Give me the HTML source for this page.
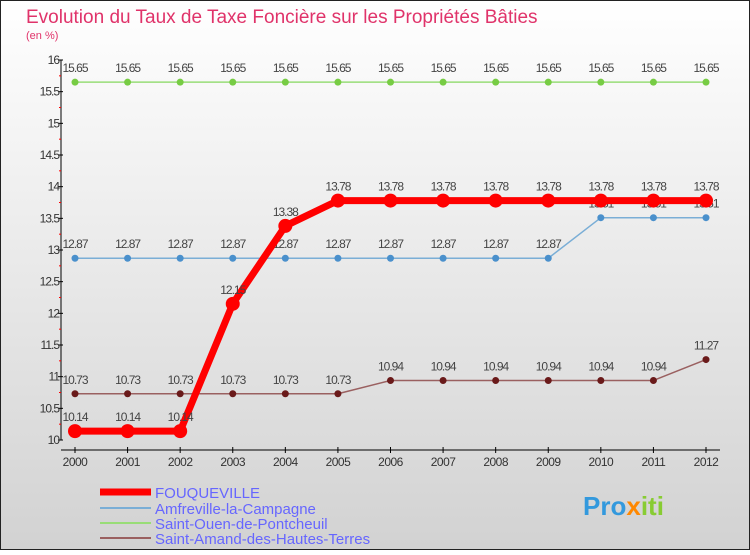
<!DOCTYPE html>
<html><head><meta charset="utf-8"><style>
body{margin:0;width:750px;height:550px;overflow:hidden;font-family:"Liberation Sans",sans-serif}
svg text{font-family:"Liberation Sans",sans-serif}
</style></head><body>
<svg id="c" width="750" height="550" xmlns="http://www.w3.org/2000/svg">
<defs><linearGradient id="bg" x1="0" y1="0" x2="0" y2="1"><stop offset="0" stop-color="#ffffff"/><stop offset="1" stop-color="#d2d2d2"/></linearGradient></defs>
<rect x="0.5" y="0.5" width="749" height="549" fill="url(#bg)" stroke="#222"/>
<text x="26" y="23" font-size="19" fill="#e0336a">Evolution du Taux de Taxe Foncière sur les Propriétés Bâties</text>
<text x="26" y="39" font-size="11" fill="#e0336a">(en %)</text>
<g id="axes"></g><g id="series"></g>
<g>
<line x1="100" y1="492" x2="151" y2="492" stroke="#f00" stroke-width="7"/>
<text x="155" y="498" font-size="15" fill="#6666ff">FOUQUEVILLE</text>
<line x1="100" y1="508" x2="151" y2="508" stroke="#7aaed6" stroke-width="2"/>
<text x="155" y="514" font-size="15" fill="#6666ff">Amfreville-la-Campagne</text>
<line x1="100" y1="523" x2="151" y2="523" stroke="#99dd77" stroke-width="2"/>
<text x="155" y="529" font-size="15" fill="#6666ff">Saint-Ouen-de-Pontcheuil</text>
<line x1="100" y1="538" x2="151" y2="538" stroke="#9a6060" stroke-width="2"/>
<text x="155" y="544" font-size="15" fill="#6666ff">Saint-Amand-des-Hautes-Terres</text>
</g>
<text x="583" y="515" font-size="26" font-weight="bold" fill="#3399dd">Pro<tspan fill="#ff8800">x</tspan><tspan fill="#88cc33">iti</tspan></text>
</svg>
<script>
const years=[2000,2001,2002,2003,2004,2005,2006,2007,2008,2009,2010,2011,2012];
const yTicks=[10,10.5,11,11.5,12,12.5,13,13.5,14,14.5,15,15.5,16];
const fouq=[10.14,10.14,10.14,12.15,13.38,13.78,13.78,13.78,13.78,13.78,13.78,13.78,13.78];
const amfr=[12.87,12.87,12.87,12.87,12.87,12.87,12.87,12.87,12.87,12.87,13.51,13.51,13.51];
const ouen=[15.65,15.65,15.65,15.65,15.65,15.65,15.65,15.65,15.65,15.65,15.65,15.65,15.65];
const amand=[10.73,10.73,10.73,10.73,10.73,10.73,10.94,10.94,10.94,10.94,10.94,10.94,11.27];
const NS="http://www.w3.org/2000/svg";
const X=i=>75+i*(706-75)/(years.length-1);
const Y=v=>440-(v-10)*(380/6);
function mk(t,a,p){const e=document.createElementNS(NS,t);for(const k in a)e.setAttribute(k,a[k]);p.appendChild(e);return e;}
const ax=document.getElementById('axes');
const yl=mk('line',{x1:61,y1:60,x2:61,y2:440,stroke:'#000'},ax);


const xl=mk('line',{x1:61,y1:450,x2:720,y2:450,stroke:'#000'},ax);


yTicks.forEach(v=>{const y=Y(v);
mk('line',{x1:58,y1:y,x2:63,y2:y,stroke:'#000'},ax);
mk('line',{x1:59,y1:Y(v+0.25),x2:61,y2:Y(v+0.25),stroke:v<16?'#f00':'none'},ax);
const t=mk('text',{x:59,y:y+4,'font-size':12,'text-anchor':'end',fill:'#333','letter-spacing':'-1'},ax);t.textContent=String(v);

});
years.forEach((yr,i)=>{mk('line',{x1:X(i),y1:447,x2:X(i),y2:453,stroke:'#000'},ax);
const t=mk('text',{x:X(i),y:466,'font-size':12,'text-anchor':'middle',fill:'#333','letter-spacing':'-0.5'},ax);t.textContent=yr;

});
const sg=document.getElementById('series');
function series(vals,name,col,w,r,dot){const g=mk('g',{},sg);


mk('polyline',{points:vals.map((v,i)=>X(i)+','+Y(v)).join(' '),fill:'none',stroke:col,'stroke-width':w,'stroke-linejoin':'round'},g);
vals.forEach((v,i)=>{const c=mk('circle',{cx:X(i),cy:Y(v),r:r,fill:dot},g);


const t=mk('text',{x:X(i),y:Y(v)-10,'font-size':12,'text-anchor':'middle',fill:'#444','letter-spacing':'-1'},g);t.textContent=String(v);

});}
series(ouen,'series-saint-ouen','#99dd77',1.5,3.5,'#77cc44');
series(amfr,'series-amfreville','#7aaed6',1.5,3.5,'#4a90cc');
series(amand,'series-saint-amand','#9a6060',1.5,3.5,'#6a1a1a');
series(fouq,'series-fouqueville','#f00',7,7,'#f00');
</script>
</body></html>
